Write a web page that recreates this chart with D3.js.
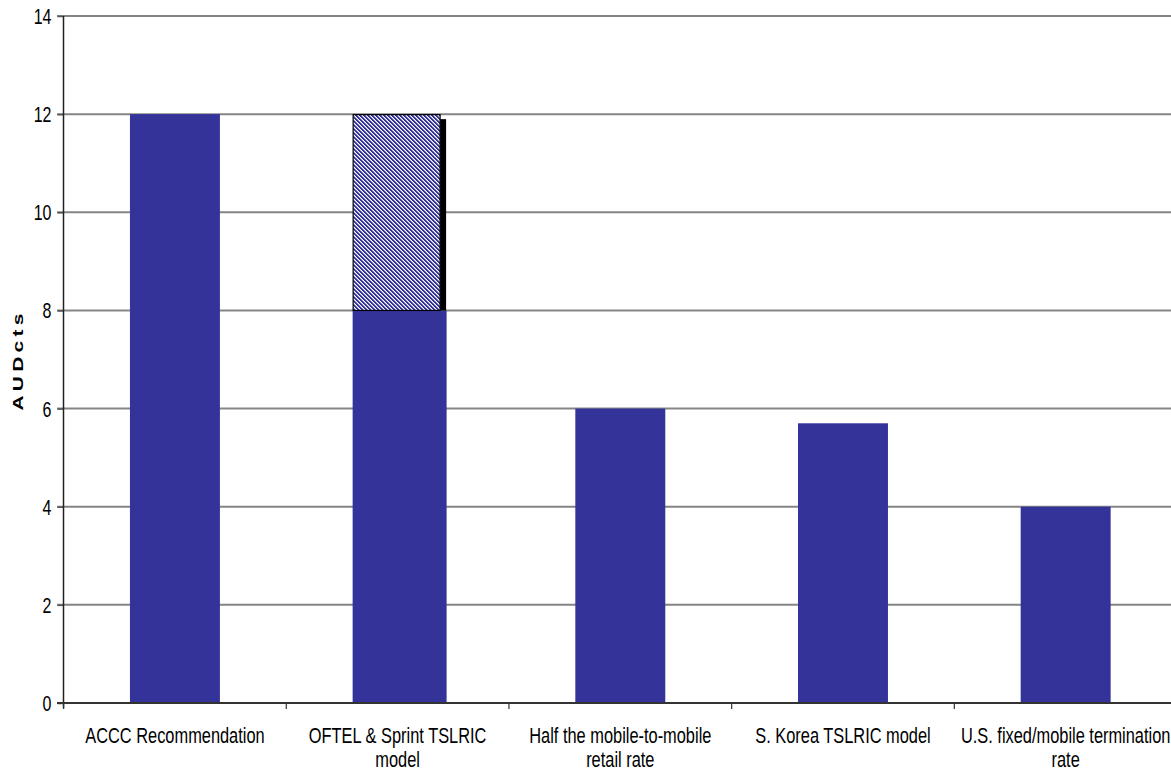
<!DOCTYPE html>
<html>
<head>
<meta charset="utf-8">
<script src="https://cdn.jsdelivr.net/npm/d3@7"></script>
<style>
  html, body { margin: 0; padding: 0; background: #ffffff; }
  svg { display: block; }
  text { font-family: "Liberation Sans", Arial, sans-serif; fill: #000; }
</style>
</head>
<body>
<svg id="chart" width="1171" height="773"></svg>
<script>
// Termination rate benchmarks, in Australian cents
const categories = [
  "ACCC Recommendation",
  "OFTEL & Sprint TSLRIC model",
  "Half the mobile-to-mobile retail rate",
  "S. Korea TSLRIC model",
  "U.S. fixed/mobile termination rate"
];
const baseValues = [12, 8, 6, 5.7, 4];      // solid part of each bar
const rangeTop = [null, 12, null, null, null]; // upper end of a range, drawn hatched
const yTicks = [0, 2, 4, 6, 8, 10, 12, 14];
const yTitle = "AUDcts";

const svg = d3.select("#chart");
const barColor = "#333399";
const stretch = 1.4; // tall, narrow type

const x = d3.scaleBand()
  .domain(categories)
  .range([63.6, 1177])
  .paddingInner(0.596)
  .paddingOuter(0.298);
const y = d3.scaleLinear().domain([0, 14]).range([703, 16]);
const step = x.step();
const bw = x.bandwidth();

// hatch pattern for the range segment
const defs = svg.append("defs");
const pat = defs.append("pattern")
  .attr("id", "hatch")
  .attr("patternUnits", "userSpaceOnUse")
  .attr("width", 4).attr("height", 4);
pat.append("rect").attr("width", 4).attr("height", 4).attr("fill", "#ffffff");
d3.range(4).forEach(k => {
  pat.append("rect").attr("x", k).attr("y", k).attr("width", 1).attr("height", 1)
    .attr("fill", barColor).attr("shape-rendering", "crispEdges");
  pat.append("rect").attr("x", (k + 1) % 4).attr("y", k).attr("width", 1).attr("height", 1)
    .attr("fill", barColor).attr("shape-rendering", "crispEdges");
  pat.append("rect").attr("x", (k + 2) % 4).attr("y", k).attr("width", 1).attr("height", 1)
    .attr("fill", "#a3a3d2").attr("shape-rendering", "crispEdges");
});

// gridlines
svg.append("g")
  .selectAll("line")
  .data(yTicks.filter(t => t > 0))
  .join("line")
  .attr("x1", 57).attr("x2", 1171)
  .attr("y1", d => y(d)).attr("y2", d => y(d))
  .attr("stroke", "#858585").attr("stroke-width", 2);

// y tick marks + labels
const yAxis = d3.axisLeft(y).tickValues(yTicks).tickSize(6).tickPadding(6).tickFormat(d3.format("d"));
const gy = svg.append("g").attr("transform", "translate(63.5,0)").call(yAxis);
gy.select(".domain").remove();
gy.selectAll(".tick line").attr("stroke", "#555").attr("stroke-width", 1.5);
gy.selectAll(".tick text").remove();
gy.selectAll(".tick").append("text")
  .attr("transform", `translate(-12,7.5) scale(1,${stretch})`)
  .attr("text-anchor", "end")
  .style("font-size", "16px")
  .text(d => d3.format("d")(d));

// bars
const bars = svg.append("g");
categories.forEach((c, i) => {
  const bx = x(c);
  if (rangeTop[i] != null) {
    // solid lower part slightly wider, hatched range above with a drop shadow
    bars.append("rect")
      .attr("x", bx).attr("y", y(baseValues[i]))
      .attr("width", bw + 4).attr("height", y(0) - y(baseValues[i]))
      .attr("fill", barColor);
    bars.append("rect")
      .attr("x", bx + bw - 2.5).attr("y", y(rangeTop[i]) + 5)
      .attr("width", 6).attr("height", y(baseValues[i]) - y(rangeTop[i]) - 5)
      .attr("fill", "#000");
    bars.append("rect")
      .attr("x", bx + 0.5).attr("y", y(rangeTop[i]) + 0.5)
      .attr("width", bw - 3).attr("height", y(baseValues[i]) - y(rangeTop[i]) - 0.5)
      .attr("fill", "url(#hatch)")
      .attr("stroke", "#000").attr("stroke-width", 1.2);
  } else {
    bars.append("rect")
      .attr("x", bx).attr("y", y(baseValues[i]))
      .attr("width", bw).attr("height", y(0) - y(baseValues[i]))
      .attr("fill", barColor);
  }
});

// axes lines
svg.append("line")
  .attr("x1", 63.5).attr("x2", 63.5).attr("y1", y(14)).attr("y2", y(0) + 5)
  .attr("stroke", "#222").attr("stroke-width", 1.5);
svg.append("line")
  .attr("x1", 57).attr("x2", 1171).attr("y1", y(0)).attr("y2", y(0))
  .attr("stroke", "#333").attr("stroke-width", 2);

// category separators below the baseline
svg.append("g")
  .selectAll("line")
  .data(d3.range(categories.length + 1))
  .join("line")
  .attr("x1", i => x.range()[0] + i * step).attr("x2", i => x.range()[0] + i * step)
  .attr("y1", y(0)).attr("y2", y(0) + 6)
  .attr("stroke", "#333").attr("stroke-width", 1.2);

// category labels, wrapped
const labels = svg.append("g");
categories.forEach(c => {
  const cx = x(c) + bw / 2;
  const g = labels.append("g")
    .attr("transform", `translate(${cx},743) scale(1,${stretch})`);
  const words = c.split(" ");
  const lines = [];
  let cur = [];
  const probe = g.append("text").style("font-size", "16.4px");
  words.forEach(w => {
    const test = cur.concat([w]).join(" ");
    probe.text(test);
    if (probe.node().getComputedTextLength() > 218 && cur.length) {
      lines.push(cur.join(" "));
      cur = [w];
    } else {
      cur.push(w);
    }
  });
  lines.push(cur.join(" "));
  probe.remove();
  lines.forEach((ln, k) => {
    g.append("text")
      .attr("y", k * 24 / stretch)
      .attr("text-anchor", "middle")
      .style("font-size", "16.4px")
      .text(ln);
  });
});

// y axis title
svg.append("text")
  .attr("transform", `translate(23,360) rotate(-90) scale(${stretch},1)`)
  .attr("text-anchor", "middle")
  .style("font-size", "15px")
  .style("font-weight", "bold")
  .style("letter-spacing", "3px")
  .text(yTitle);
</script>
</body>
</html>
